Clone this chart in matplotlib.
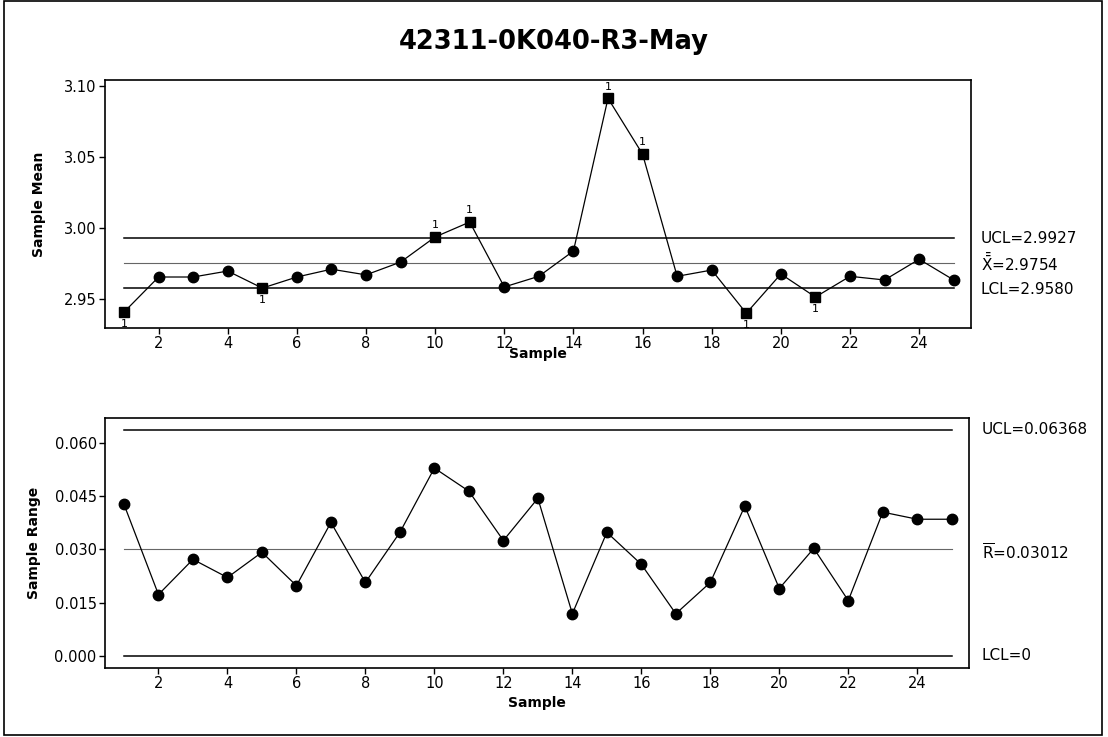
import matplotlib
matplotlib.use("Agg")
import matplotlib.pyplot as plt
from matplotlib.patches import Rectangle
from matplotlib.ticker import MultipleLocator, FormatStrFormatter

plt.rcParams['font.family'] = ['DejaVu Sans']

# data
samples = list(range(1, 26))
means = [2.9408, 2.9655, 2.9655, 2.9697, 2.9577, 2.9655, 2.9710, 2.9670, 2.9760, 2.9937,
         3.0042, 2.9585, 2.9660, 2.9838, 3.0913, 3.0520, 2.9660, 2.9704, 2.9400, 2.9676,
         2.9514, 2.9660, 2.9634, 2.9780, 2.9634]
ranges = [0.0427, 0.0173, 0.0272, 0.0221, 0.0292, 0.0198, 0.0376, 0.0207, 0.0348, 0.0529,
          0.0464, 0.0325, 0.0444, 0.0119, 0.0348, 0.0258, 0.0119, 0.0207, 0.0422, 0.0190,
          0.0303, 0.0156, 0.0405, 0.0385, 0.0385]

# out of control points on the xbar chart: sample -> label side (+1 above, -1 below)
flagged = {1: -1, 5: -1, 10: 1, 11: 1, 15: 1, 16: 1, 19: -1, 21: -1}

xbar_ucl, xbar_cl, xbar_lcl = 2.9927, 2.9754, 2.9580
r_ucl, r_cl, r_lcl = 0.06368, 0.03012, 0.0

W, H = 1108, 737
fig = plt.figure(figsize=(W / 100, H / 100), dpi=100)


def px_axes(left, top, right, bottom):
    return fig.add_axes([left / W, 1 - bottom / H, (right - left) / W, (bottom - top) / H])


ax1 = px_axes(105, 80, 971, 328)
ax2 = px_axes(105, 418, 969, 668)

fig.text(0.5, 1 - 42 / H, "42311-0K040-R3-May", ha="center", va="center",
         fontsize=18.5, fontweight="bold")

# outer frame
fig.patches.append(Rectangle((4 / W, 1 - 735 / H), 1098 / W, 734 / H, transform=fig.transFigure,
                             fill=False, edgecolor="black", linewidth=1.2))


def style(ax):
    for s in ax.spines.values():
        s.set_linewidth(1.2)
    ax.tick_params(direction="out", length=4, width=1, labelsize=10.5, pad=2)
    ax.set_xlim(0.45, 25.5)
    ax.xaxis.set_major_locator(MultipleLocator(2))
    ax.set_xticks(range(2, 25, 2))


# --- Xbar chart ---
style(ax1)
ax1.set_ylim(2.9296, 3.1042)
ax1.set_yticks([2.95, 3.00, 3.05, 3.10])
ax1.yaxis.set_major_formatter(FormatStrFormatter("%.2f"))

ax1.plot([1, 25], [xbar_ucl, xbar_ucl], color="black", lw=1.1)
ax1.plot([1, 25], [xbar_lcl, xbar_lcl], color="black", lw=1.1)
ax1.plot([1, 25], [xbar_cl, xbar_cl], color="0.4", lw=0.8)

ax1.plot(samples, means, color="black", lw=0.9, zorder=3)
normal = [s for s in samples if s not in flagged]
ax1.plot(normal, [means[s - 1] for s in normal], "o", color="black", ms=7.5, ls="none", zorder=4)
bad = sorted(flagged)
ax1.plot(bad, [means[s - 1] for s in bad], "s", color="black", ms=6.5, ls="none", zorder=4)
for s, side in flagged.items():
    ax1.annotate("1", (s, means[s - 1]), xytext=(0, 8.5 * side), textcoords="offset points",
                 ha="center", va="center", fontsize=8)

ax1.set_xlabel("Sample", fontsize=10, fontweight="bold", labelpad=-3)
ax1.set_ylabel("Sample Mean", fontsize=10, fontweight="bold", labelpad=13)

lab_x = 1.011
ax1.text(lab_x, xbar_ucl, "UCL=2.9927", transform=ax1.get_yaxis_transform(),
         va="center", ha="left", fontsize=11)
ax1.text(lab_x, xbar_cl, r"$\bar{\bar{\mathrm{X}}}$=2.9754", transform=ax1.get_yaxis_transform(),
         va="center", ha="left", fontsize=11)
ax1.text(lab_x, xbar_lcl - 0.0015, "LCL=2.9580", transform=ax1.get_yaxis_transform(),
         va="center", ha="left", fontsize=11)

# --- R chart ---
style(ax2)
ax2.set_ylim(-0.00338, 0.0670)
ax2.set_yticks([0.0, 0.015, 0.030, 0.045, 0.060])
ax2.yaxis.set_major_formatter(FormatStrFormatter("%.3f"))

ax2.plot([1, 25], [r_ucl, r_ucl], color="black", lw=1.1)
ax2.plot([1, 25], [r_lcl, r_lcl], color="black", lw=1.1)
ax2.plot([1, 25], [r_cl, r_cl], color="0.4", lw=0.8)

ax2.plot(samples, ranges, color="black", lw=0.9, marker="o", ms=7.5, zorder=3)

ax2.set_xlabel("Sample", fontsize=10, fontweight="bold", labelpad=3)
ax2.set_ylabel("Sample Range", fontsize=10, fontweight="bold", labelpad=10)

lab_x2 = 1.015
ax2.text(lab_x2, r_ucl, "UCL=0.06368", transform=ax2.get_yaxis_transform(),
         va="center", ha="left", fontsize=11)
ax2.text(lab_x2, r_cl - 0.001, r"$\overline{\mathrm{R}}$=0.03012", transform=ax2.get_yaxis_transform(),
         va="center", ha="left", fontsize=11)
ax2.text(lab_x2, r_lcl, "LCL=0", transform=ax2.get_yaxis_transform(),
         va="center", ha="left", fontsize=11)

fig.savefig("out.png", dpi=100)
